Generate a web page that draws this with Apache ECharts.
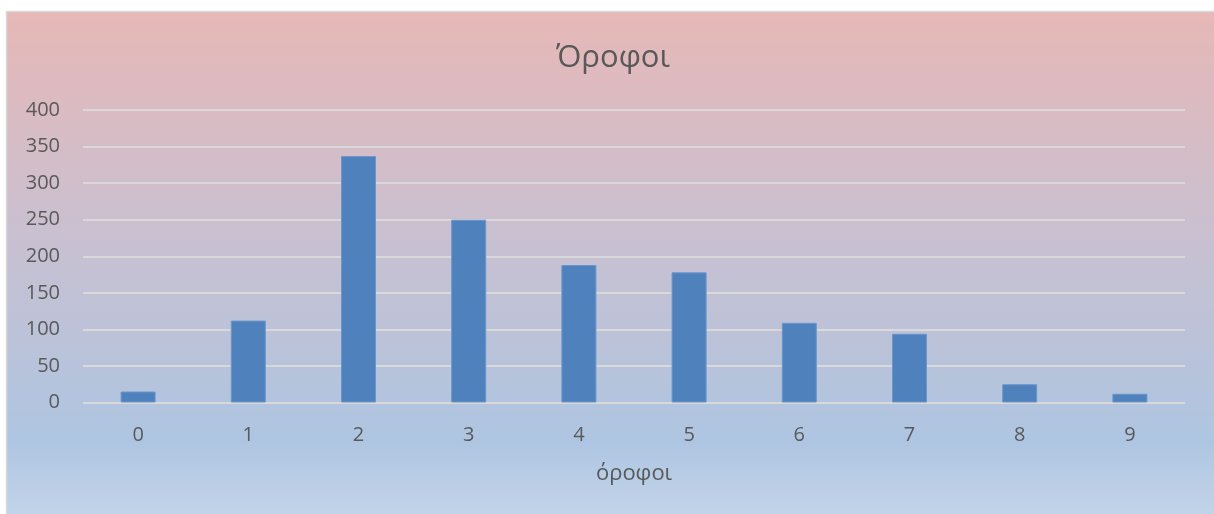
<!DOCTYPE html>
<html>
<head>
<meta charset="utf-8">
<script src="https://cdn.jsdelivr.net/npm/echarts@6/dist/echarts.min.js"></script>
<style>
  html, body { margin: 0; padding: 0; background: #ffffff; }
  #chart { width: 1214px; height: 514px; }
</style>
</head>
<body>
<div id="chart"></div>
<script>
// Number of storeys per building
const categories = ['0', '1', '2', '3', '4', '5', '6', '7', '8', '9'];
const counts = [15, 112, 337, 250, 188, 178, 109, 94, 25, 12];
const yTicks = [0, 50, 100, 150, 200, 250, 300, 350, 400];

const titleText = 'Όροφοι';
const xAxisTitle = 'όροφοι';

const textColor = '#595959';
const fontFamily = '"Open Sans", "Noto Sans", sans-serif';

const chart = echarts.init(document.getElementById('chart'), null, { renderer: 'canvas' });

chart.setOption({
  animation: false,
  backgroundColor: '#ffffff',
  graphic: [
    {
      type: 'rect',
      z: -10,
      silent: true,
      shape: { x: 6.5, y: 11.5, width: 1212, height: 510 },
      style: {
        fill: new echarts.graphic.LinearGradient(0, 0, 0, 1, [
          { offset: 0, color: '#e7b8b7' },
          { offset: 0.45, color: '#c8c0d1' },
          { offset: 0.84, color: '#aec5e1' },
          { offset: 1, color: '#c4d5ea' }
        ]),
        stroke: '#d9d9d9',
        lineWidth: 1.5
      }
    }
  ],
  title: {
    text: titleText,
    left: 608,
    top: 38,
    textAlign: 'center',
    textStyle: {
      color: textColor,
      fontFamily: fontFamily,
      fontSize: 31,
      fontWeight: 'normal'
    }
  },
  grid: {
    left: 83,
    right: 29,
    top: 110,
    bottom: 111.5,
    containLabel: false
  },
  xAxis: {
    type: 'category',
    data: categories,
    name: xAxisTitle,
    nameLocation: 'middle',
    nameGap: 60,
    nameTextStyle: {
      color: textColor,
      fontFamily: fontFamily,
      fontSize: 22
    },
    axisLine: { show: false },
    axisTick: { show: false },
    axisLabel: {
      color: textColor,
      fontFamily: fontFamily,
      fontSize: 20,
      margin: 23
    }
  },
  yAxis: {
    type: 'value',
    min: yTicks[0],
    max: yTicks[yTicks.length - 1],
    interval: yTicks[1] - yTicks[0],
    axisLine: { show: false },
    axisTick: { show: false },
    axisLabel: {
      color: textColor,
      fontFamily: fontFamily,
      fontSize: 20,
      margin: 23
    },
    splitLine: {
      show: true,
      lineStyle: { color: '#d9d9d9', width: 2 }
    }
  },
  series: [
    {
      type: 'bar',
      data: counts,
      barWidth: 35,
      itemStyle: {
        color: '#4f81bd',
        borderColor: '#6a96cc',
        borderWidth: 1
      }
    }
  ]
});
</script>
</body>
</html>
